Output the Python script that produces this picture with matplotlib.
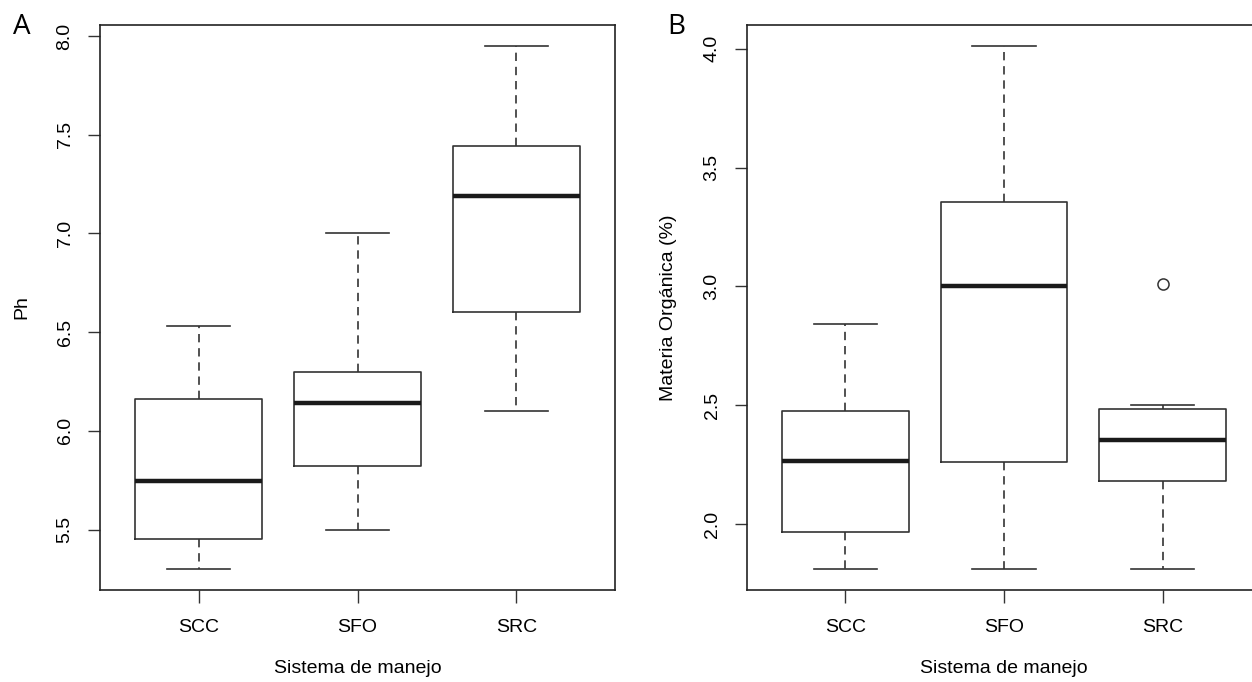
import matplotlib.pyplot as plt

plt.rcParams['font.family'] = ['Liberation Sans', 'DejaVu Sans']

categories = ['SCC', 'SFO', 'SRC']

# Panel A: pH
ph_whislo = [5.30, 5.50, 6.10]
ph_q1 = [5.45, 5.82, 6.60]
ph_med = [5.745, 6.14, 7.19]
ph_q3 = [6.16, 6.30, 7.445]
ph_whishi = [6.53, 7.00, 7.95]
ph_fliers = [[], [], []]

# Panel B: materia organica
mo_whislo = [1.81, 1.81, 1.81]
mo_q1 = [1.965, 2.26, 2.18]
mo_med = [2.265, 3.00, 2.355]
mo_q3 = [2.475, 3.355, 2.485]
mo_whishi = [2.84, 4.01, 2.50]
mo_fliers = [[], [], [3.01]]


def make_stats(lo, q1, med, q3, hi, fl):
    return [dict(whislo=a, q1=b, med=c, q3=d, whishi=e, fliers=f)
            for a, b, c, d, e, f in zip(lo, q1, med, q3, hi, fl)]


def draw_panel(ax, stats, ylim, yticks, ylabel):
    ax.bxp(stats, positions=[1, 2, 3], widths=0.8, capwidths=0.4,
           showfliers=True,
           boxprops=dict(color='#333333', linewidth=1.2),
           whiskerprops=dict(color='#333333', linewidth=1.2, linestyle=(0, (5, 3.5))),
           capprops=dict(color='#333333', linewidth=1.2),
           medianprops=dict(color='#1a1a1a', linewidth=3.2, solid_capstyle='butt'),
           flierprops=dict(marker='o', markersize=8, markerfacecolor='none',
                           markeredgecolor='#333333', markeredgewidth=1.1))
    ax.set_xlim(0.38, 3.62)
    ax.set_ylim(*ylim)
    ax.set_xticks([1, 2, 3])
    ax.set_xticklabels(categories)
    ax.set_yticks(yticks)
    ax.set_yticklabels(['%.1f' % v for v in yticks], rotation=90, va='center')
    ax.tick_params(axis='both', direction='out', length=9, width=1.0,
                   color='#333333', labelsize=14, pad=6)
    ax.tick_params(axis='x', pad=12)
    ax.tick_params(axis='y', pad=10)
    for s in ax.spines.values():
        s.set_color('#222222')
        s.set_linewidth(1.2)
    ax.set_xlabel('Sistema de manejo', fontsize=14, labelpad=17)
    ax.set_ylabel(ylabel, fontsize=14, labelpad=19)


fig = plt.figure(figsize=(12.52, 6.82), dpi=100)
W, H = 1252, 682
ax1 = fig.add_axes([100 / W, 92 / H, 515 / W, 565 / H])
ax2 = fig.add_axes([747 / W, 92 / H, 514 / W, 565 / H])

draw_panel(ax1, make_stats(ph_whislo, ph_q1, ph_med, ph_q3, ph_whishi, ph_fliers),
           (5.194, 8.056), [5.5, 6.0, 6.5, 7.0, 7.5, 8.0], 'Ph')
draw_panel(ax2, make_stats(mo_whislo, mo_q1, mo_med, mo_q3, mo_whishi, mo_fliers),
           (1.722, 4.10), [2.0, 2.5, 3.0, 3.5, 4.0], 'Materia Orgánica (%)')

fig.text(22 / W, 1 - 27 / H, 'A', fontsize=20, family=['Open Sans', 'DejaVu Sans'],
         ha='center', va='center')
fig.text(676 / W, 1 - 27 / H, 'B', fontsize=20, family=['Open Sans', 'DejaVu Sans'],
         ha='center', va='center')

fig.savefig('out.png', dpi=100)
